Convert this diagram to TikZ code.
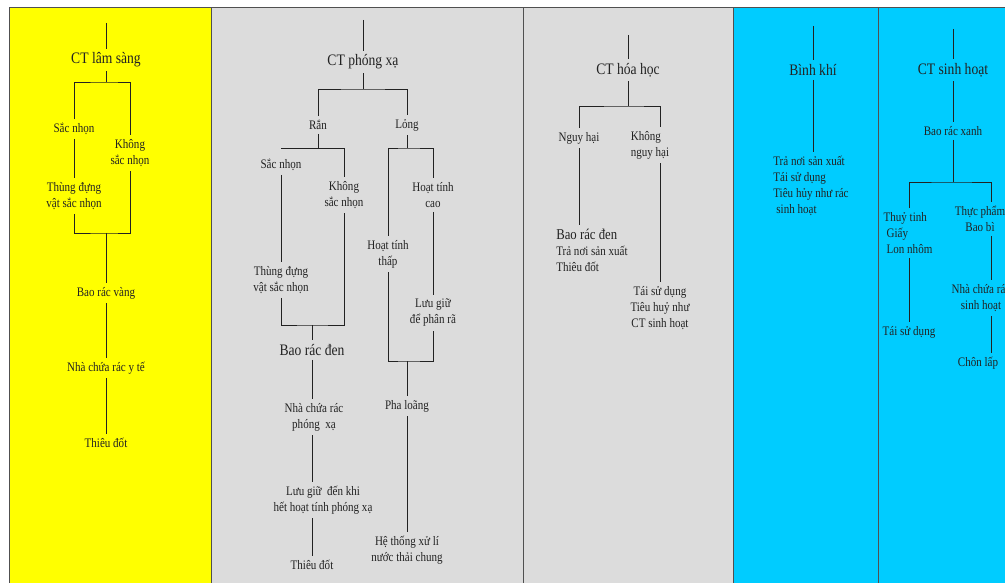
\documentclass[tikz,border=0pt]{standalone}
\usepackage{fontspec}
\setmainfont{Liberation Serif}[FakeStretch = 0.85]
\usepackage{tikz, xcolor}
\definecolor{vang}{HTML}{FFFF00}
\definecolor{xam}{HTML}{DCDCDC}
\definecolor{xanh}{HTML}{00CCFF}
\definecolor{vien}{HTML}{505050}
\definecolor{net}{HTML}{222222}
\tikzset{
        lbl/.style = {text = net, inner sep = 4pt, font = \fontsize{13}{16}\selectfont, align = center},
        lbll/.style = {lbl, align = left},
        ttl/.style = {text = net, inner sep = 4pt, font = \fontsize{16}{18}\selectfont},
        ln/.style = {net, line width = .35mm}
}

\begin{document}
\begin{tikzpicture}[x = 1pt, y = -1pt]
        \useasboundingbox (0, 0) rectangle (1005, 583);
        \foreach \xa/\xb/\col in {9/211/vang, 211/523/xam, 523/733/xam, 733/878/xanh, 878/1010/xanh}
        \draw[vien, fill = \col, line width = .3mm] (\xa, 7) rectangle (\xb, 590);
        \coordinate (lsT) at (106, 23);
        \node[ttl] (lsCT) at (106, 60) {CT lâm sàng};
        \coordinate (lsA) at (106, 82);
        \node[lbl] (lsSac) at (74, 129) {Sắc nhọn};
        \node[lbl] (lsKhong) at (130, 153) {Không\\sắc nhọn};
        \node[lbl] (lsThung) at (74, 196) {Thùng đựng\\vật sắc nhọn};
        \coordinate (lsB) at (106, 233);
	\node[lbl] (lsBao) at (106, 293) {Bao rác vàng};
        \node[lbl] (lsNha) at (106, 368) {Nhà chứa rác y tế};
        \node[lbl] (lsThieu) at (106, 443) {Thiêu đốt};
        \draw[ln] (lsT) -- (lsCT) -- (lsA);
        \draw[ln] (lsSac) |- (lsA) -| (lsKhong);
        \draw[ln] (lsSac) -- (lsThung);
        \draw[ln] (lsThung) |- (lsB) -| (lsKhong);
        \draw[ln] (lsB) -- (lsBao) -- (lsNha) -- (lsThieu);
        \coordinate (pxT) at (363, 20);
        \node[ttl] (pxCT) at (363, 62) {CT phóng xạ};
        \coordinate (pxA) at (363, 89);
        \node[lbl] (pxRan) at (318, 125) {Rắn};
        \node[lbl] (pxLong) at (407, 125) {Lỏng};
        \coordinate (pxR) at (318, 148);
        \coordinate (pxL) at (407, 148);
        \node[lbl] (pxSac) at (281, 165) {Sắc nhọn};
        \node[lbl] (pxKhong) at (344, 195) {Không\\sắc nhọn};
        \node[lbl] (pxThung) at (281, 280) {Thùng đựng\\vật sắc nhọn};
        \coordinate (pxB) at (312, 325);
        \node[ttl] (pxBao) at (312, 350) {Bao rác đen};
        \node[lbl] (pxNha) at (314, 417) {Nhà chứa rác\\phóng\ \ xạ};
        \node[lbl] (pxLuu) at (323, 500) {Lưu giữ\ \ đến khi\\hết hoạt tính phóng xạ};
        \node[lbl] (pxThieu) at (312, 565) {Thiêu đốt};
        \node[lbl] (pxCao) at (433, 195) {Hoạt tính\\cao};
        \node[lbl] (pxThap) at (388, 254) {Hoạt tính\\thấp};
        \node[lbl] (pxLuuR) at (433, 313) {Lưu giữ\\để phân rã};
        \coordinate (pxD) at (407, 361);
        \node[lbl] (pxPha) at (407, 406) {Pha loãng};
        \node[lbl] (pxHe) at (407, 550) {Hệ thống xử lí\\nước thải chung};
        \draw[ln] (pxT) -- (pxCT) -- (pxA);
        \draw[ln] (pxRan) |- (pxA) -| (pxLong);
        \draw[ln] (pxRan) -- (pxR);
        \draw[ln] (pxSac |- pxR) -| (pxKhong);
        \draw[ln] (pxSac) -- (pxThung);
        \draw[ln] (pxThung) |- (pxB) -| (pxKhong);
        \draw[ln] (pxB) -- (pxBao) -- (pxBao |- pxNha.north);
        \draw[ln] (pxNha.south -| pxBao) -- (pxBao |- pxLuu.north);
        \draw[ln] (pxLuu.south -| pxBao) -- (pxThieu);
        \draw[ln] (pxLong) -- (pxL);
        \draw[ln] (pxThap) |- (pxL) -| (pxCao);
        \draw[ln] (pxCao) -- (pxLuuR);
        \draw[ln] (pxThap) |- (pxD) -| (pxLuuR);
        \draw[ln] (pxD) -- (pxPha) -- (pxHe);
        \coordinate (hhT) at (628, 35);
        \node[ttl] (hhCT) at (628, 70) {CT hóa học};
        \coordinate (hhA) at (628, 106);
        \coordinate (hhR) at (660, 106);
        \node[lbl] (hhNguy) at (579, 138) {Nguy hại};
        \node[lbll] (hhKhong) at (650, 145) {Không\\nguy hại};
        \node[lbll] (hhDen) at (592, 250) {{\fontsize{15}{16}\selectfont Bao rác đen}\\Trả nơi sản xuất\\Thiêu đốt};
        \node[lbl] (hhTai) at (660, 308) {Tái sử dụng\\Tiêu huỷ như\\CT sinh hoạt};
        \draw[ln] (hhT) -- (hhCT) -- (hhA);
        \draw[ln] (hhNguy) |- (hhA) -- (hhR) -- (hhR |- hhKhong.north);
        \draw[ln] (hhNguy) -- (hhNguy |- hhDen.north);
        \draw[ln] (hhKhong.south -| hhR) -- (hhTai);
        \coordinate (bkT) at (813, 26);
        \node[ttl] (bkCT) at (813, 70) {Bình khí};
        \node[lbll] (bkDs) at (811, 186) {Trả nơi sản xuất\\Tái sử dụng\\Tiêu hủy như rác\\\hspace{3pt}sinh hoạt};
        \draw[ln] (bkT) -- (bkCT) -- (bkCT |- bkDs.north);
        \coordinate (shT) at (953, 29);
        \node[ttl] (shCT) at (953, 70) {CT sinh hoạt};
        \node[lbl] (shBao) at (953, 131) {Bao rác xanh};
        \coordinate (shA) at (953, 182);
        \coordinate (shR) at (991, 182);
        \node[lbll] (shThuy) at (908, 233) {Thuỷ tinh\\\hspace{3pt}Giấy\\\hspace{3pt}Lon nhôm};
        \node[lbl] (shTai) at (909, 332) {Tái sử dụng};
        \node[lbl] (shThuc) at (980, 219) {Thực phẩm\\Bao bì};
        \node[lbl] (shNha) at (981, 298) {Nhà chứa rác\\sinh hoạt};
        \node[lbl] (shChon) at (978, 363) {Chôn lấp};
        \draw[ln] (shT) -- (shCT) -- (shBao) -- (shA);
        \draw[ln] (shThuy.north -| shTai) |- (shA) -- (shR) -- (shR |- shThuc.north);
        \draw[ln] (shThuy.south -| shTai) -- (shTai);
        \draw[ln] (shThuc.south -| shR) -- (shR |- shNha.north);
        \draw[ln] (shNha.south -| shR) -- (shR |- shChon.north);
\end{tikzpicture}
\end{document}
